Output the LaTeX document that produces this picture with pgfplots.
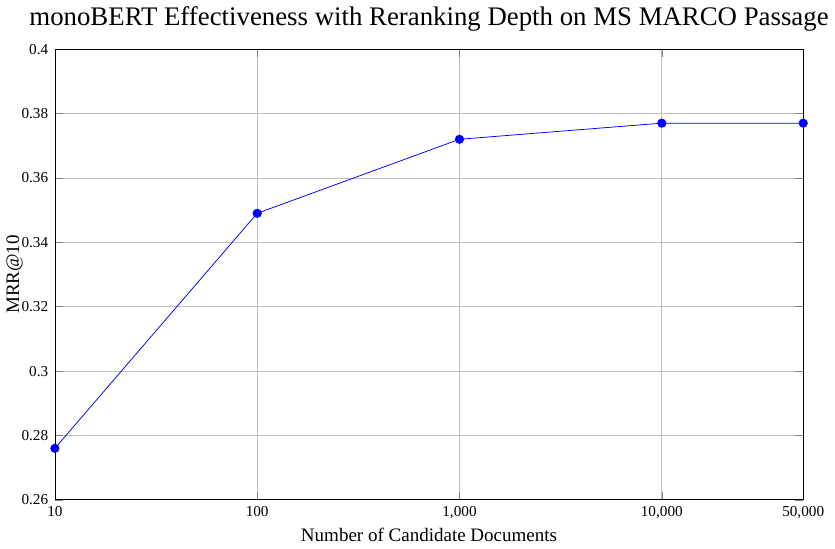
\documentclass[border=0pt]{standalone}
\usepackage{pgfplots}
\pgfplotsset{compat=1.18}
\usepackage[no-math]{fontspec}
\setmainfont{Liberation Serif}
\begin{document}
\begin{tikzpicture}
\begin{axis}[
  scale only axis,
  width=393.5pt, height=237pt,
  xmode=log,
  xmin=10, xmax=50000,
  ymin=0.26, ymax=0.4,
  xtick={10,100,1000,10000,50000},
  xticklabels={10,100,{1,000},{10,000},{50,000}},
  ytick={0.26,0.28,0.30,0.32,0.34,0.36,0.38,0.40},
  yticklabels={0.26,0.28,0.3,0.32,0.34,0.36,0.38,0.4},
  minor xtick={},
  grid=major,
  tick label style={font=\footnotesize},
  title={\fontsize{14.1pt}{17pt}\selectfont monoBERT Effectiveness with Reranking Depth on MS MARCO Passage},
  xlabel={Number of Candidate Documents},
  ylabel={MRR@10},
  ylabel style={at={(axis description cs:-0.054,0.5)}, anchor=center},
  xlabel style={yshift=2pt},
]
\addplot[blue, mark=*, mark size=2.2pt] coordinates {
  (10,0.276) (100,0.349) (1000,0.372) (10000,0.377) (50000,0.377)
};
\end{axis}
\end{tikzpicture}
\end{document}
